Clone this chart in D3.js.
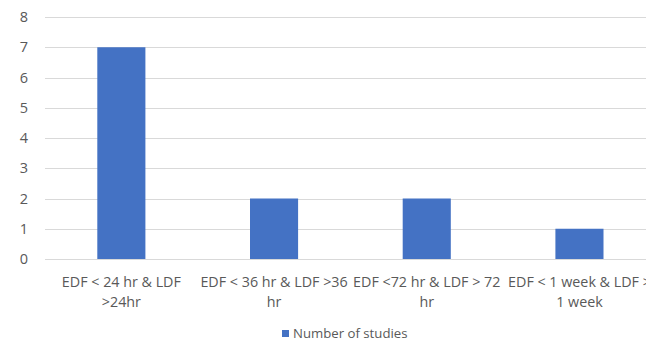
<!DOCTYPE html>
<html><head><meta charset="utf-8">
<script src="https://cdn.jsdelivr.net/npm/d3@7"></script>
<style>body{margin:0;background:#fff;overflow:hidden}svg{display:block}</style>
</head><body><svg id="c" width="646" height="342"></svg>
<script>
const categoryLines = [
  ["EDF < 24 hr & LDF", ">24hr"],
  ["EDF < 36 hr & LDF >36", "hr"],
  ["EDF <72 hr & LDF > 72", "hr"],
  ["EDF < 1 week & LDF >", "1 week"]
];
const categories = categoryLines.map(l => l.join(" "));
const values = [7, 2, 2, 1];
const yTicks = [0, 1, 2, 3, 4, 5, 6, 7, 8];
const seriesName = "Number of studies";

const svg = d3.select("#c");
const font = "'Open Sans', 'Liberation Sans', Arial, sans-serif";
const x = d3.scaleBand().domain(categories).range([45, 655.8]).paddingInner(0.685).paddingOuter(0.3425);
const y = d3.scaleLinear().domain([0, 8]).range([259, 17]);

svg.append("g").selectAll("line").data(yTicks).join("line")
  .attr("x1", 45).attr("x2", 646)
  .attr("y1", d => Math.round(y(d)) + 0.5).attr("y2", d => Math.round(y(d)) + 0.5)
  .attr("stroke", "#d9d9d9").attr("stroke-width", 1);

const yAxis = svg.append("g").attr("transform", "translate(45,0)")
  .call(d3.axisLeft(y).tickValues(yTicks).tickSize(0).tickPadding(17).tickFormat(d3.format("d")));
yAxis.select(".domain").remove();
yAxis.selectAll("text").attr("fill", "#595959").style("font-family", font).style("font-size", "14.5px");

svg.append("g").selectAll("rect").data(values).join("rect")
  .attr("x", (d, i) => x(categories[i]))
  .attr("width", x.bandwidth())
  .attr("y", d => y(d))
  .attr("height", d => y(0) - y(d))
  .attr("fill", "#4472C4");

const xAxis = svg.append("g").attr("transform", "translate(0,259)")
  .call(d3.axisBottom(x).tickSize(0).tickFormat(""));
xAxis.select(".domain").remove();
xAxis.selectAll(".tick").each(function(d, i) {
  const t = d3.select(this).append("text")
    .attr("fill", "#595959").attr("text-anchor", "middle")
    .style("font-family", font).style("font-size", "14.3px");
  categoryLines[i].forEach((line, j) => {
    t.append("tspan").attr("x", 0).attr("y", 28 + j * 20).text(line);
  });
});

const lg = svg.append("g").attr("transform", "translate(282,330)");
lg.append("rect").attr("width", 7).attr("height", 7).attr("fill", "#4472C4");
lg.append("text").attr("x", 11).attr("y", 8).attr("fill", "#595959")
  .style("font-family", font).style("font-size", "13.2px").text(seriesName);
</script></body></html>
